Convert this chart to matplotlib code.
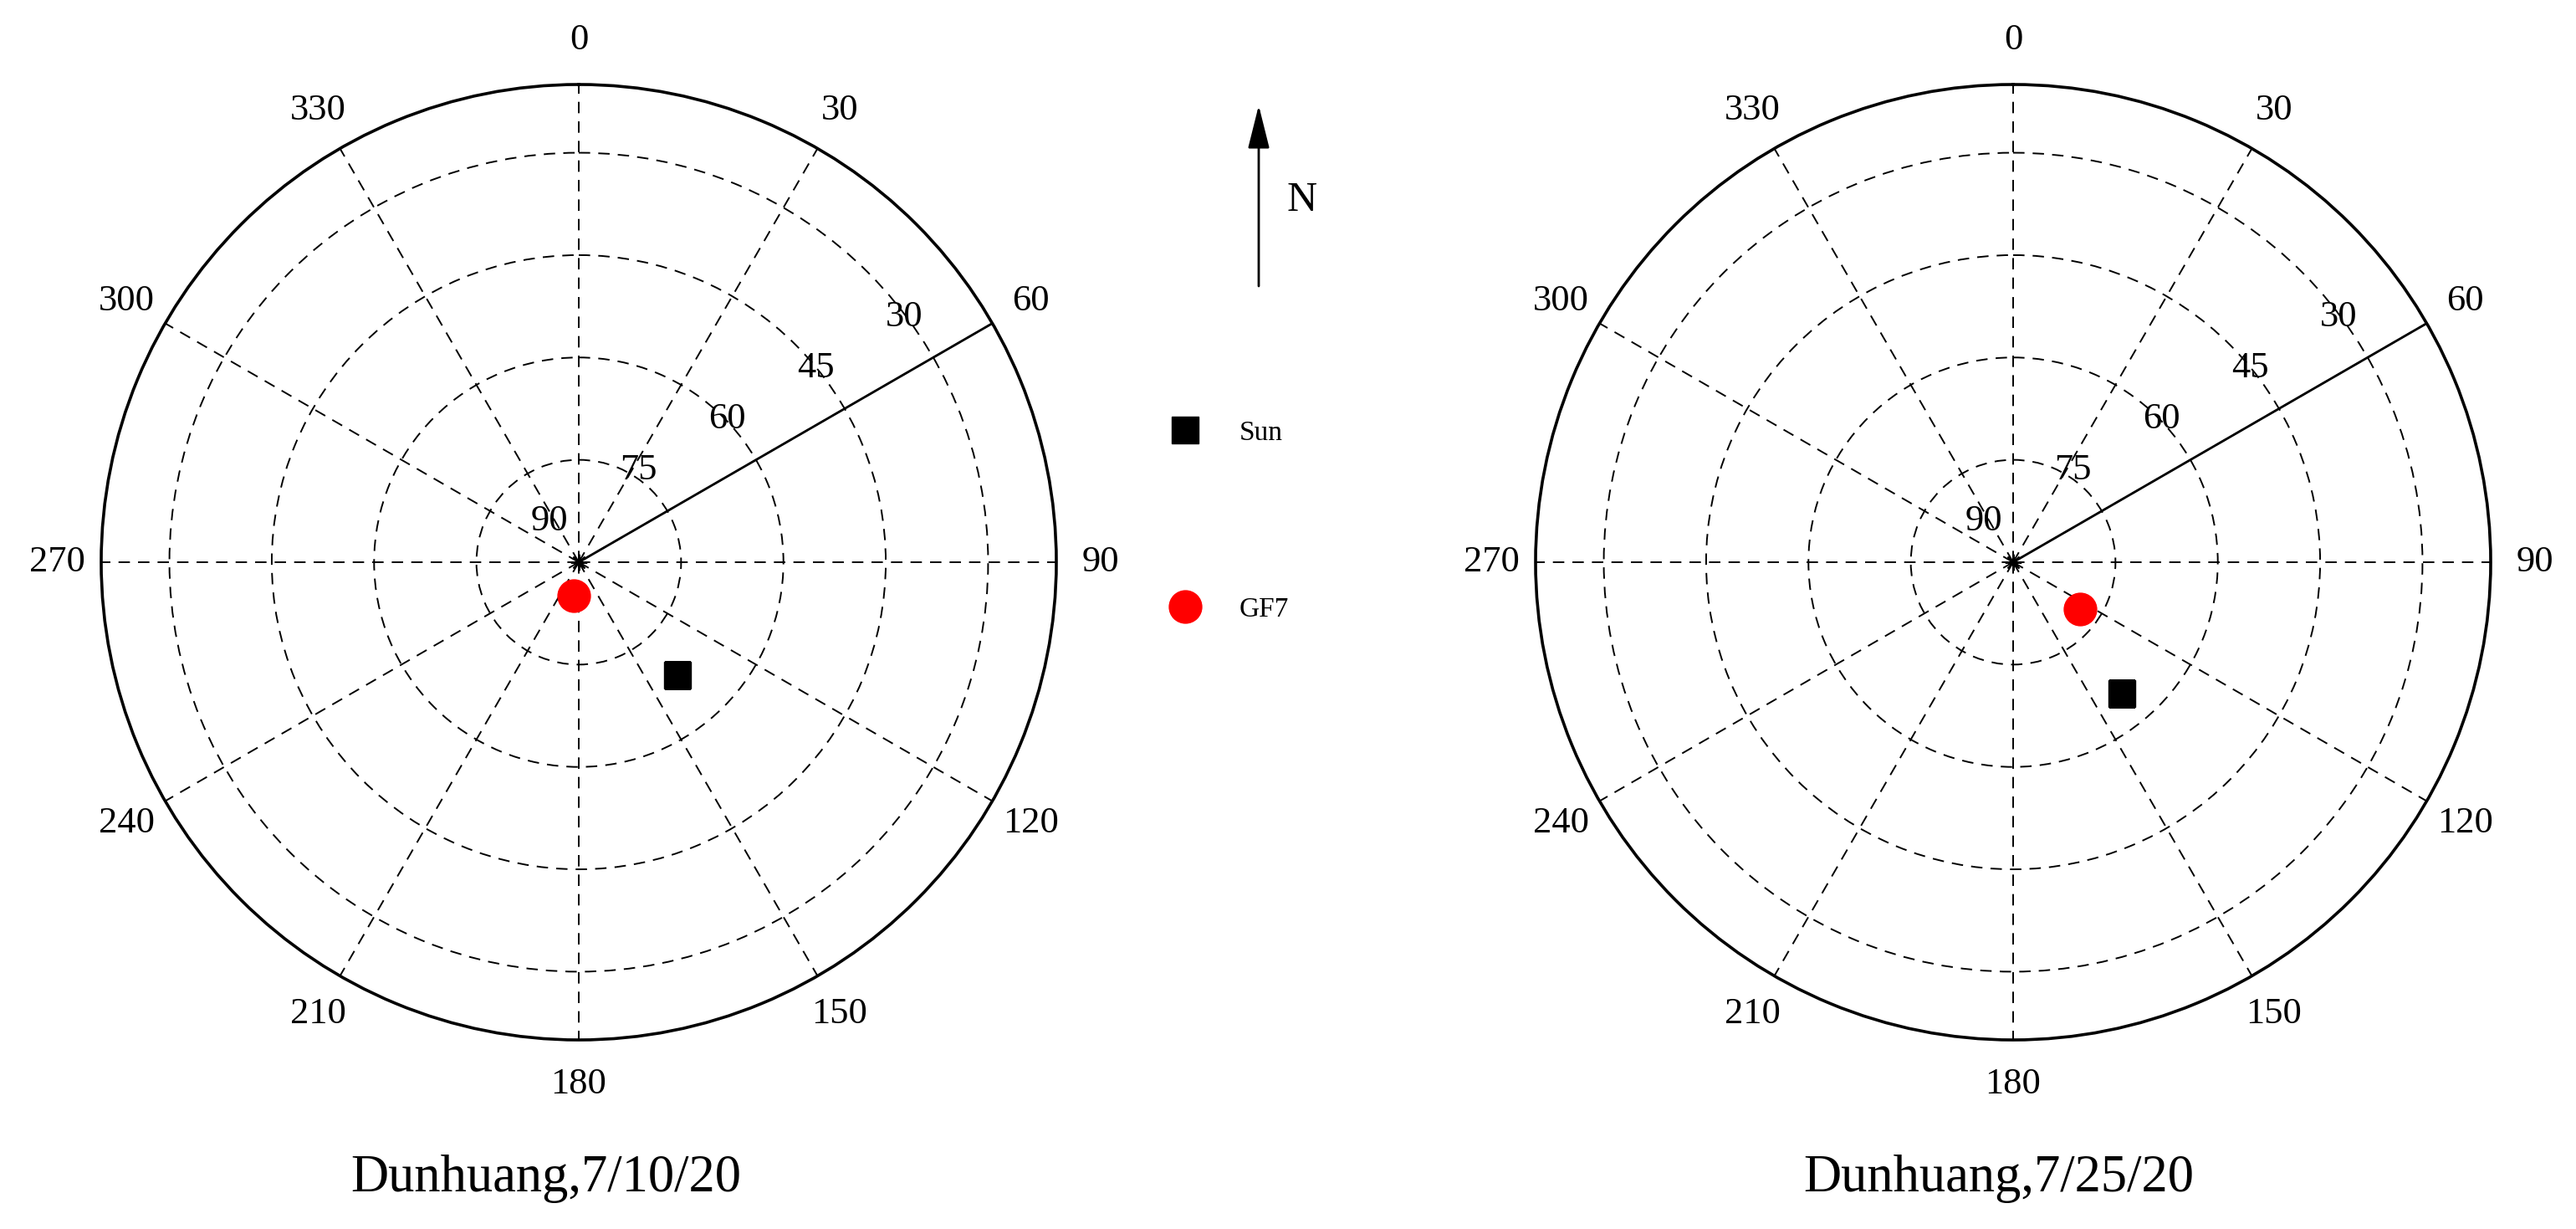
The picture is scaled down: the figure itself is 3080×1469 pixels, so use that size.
import matplotlib
matplotlib.use('Agg')
import matplotlib.pyplot as plt
import numpy as np

plt.rcParams['font.family'] = ['Liberation Serif', 'DejaVu Serif']

# sky positions: azimuth (deg from north, clockwise), elevation (deg)
titles = ['Dunhuang,7/10/20', 'Dunhuang,7/25/20']
sun_az = [139.0, 140.5]
sun_el = [68.0, 65.0]
gf7_az = [189.0, 125.0]
gf7_el = [85.0, 78.0]

az_ticks = list(range(0, 360, 30))
el_rings = [75, 60, 45, 30]
el_labels = [90, 75, 60, 45, 30]
el_min = 20          # elevation at the outer circle
ref_az = 60          # solid reference line / label direction

W, H = 3080, 1469
fig = plt.figure(figsize=(W / 100, H / 100), dpi=100)

centers = [(692, 672), (2407, 672)]
title_x = [653, 2390]
R = 571
dash = (0, (7, 5))

line_handles = []
for i in range(2):
    cx, cy = centers[i]
    ax = fig.add_axes([(cx - R) / W, (H - cy - R) / H, 2 * R / W, 2 * R / H],
                      projection='polar')
    ax.set_theta_zero_location('N')
    ax.set_theta_direction(-1)
    ax.set_ylim(0, 90 - el_min)

    ax.set_xticks(np.deg2rad(az_ticks))
    ax.set_xticklabels([str(a) for a in az_ticks], fontsize=32)
    ax.set_yticks([90 - e for e in el_rings])
    ax.set_yticklabels([])
    ax.tick_params(axis='x', pad=31, length=0)
    ax.grid(True, color='k', linestyle=dash, linewidth=1.4)
    ax.spines['polar'].set_linewidth(2.6)

    # reference line from zenith to horizon limit
    ax.plot([np.deg2rad(ref_az)] * 2, [0, 90 - el_min], color='k', lw=2.0)
    ax.plot(0, 0, marker=(8, 2, 0), color='k', ms=14, mew=1.5)

    for e in el_labels:
        ax.annotate(str(e), xy=(np.deg2rad(ref_az), 90 - e), xytext=(-25, 35),
                    textcoords='offset points', ha='center', va='center',
                    fontsize=32)

    sun, = ax.plot(np.deg2rad(sun_az[i]), 90 - sun_el[i], 's', color='k',
                   ms=23, label='Sun', linestyle='none')
    gf7, = ax.plot(np.deg2rad(gf7_az[i]), 90 - gf7_el[i], 'o', color='red',
                   ms=28, label='GF7', linestyle='none')
    line_handles = [sun, gf7]

    fig.text(title_x[i] / W, 1 - 1424 / H, titles[i], ha='center',
             va='baseline', fontsize=45)

fig.legend(line_handles, ['Sun', 'GF7'], loc='center left',
           bbox_to_anchor=(1400 / W, 1 - 623 / H), frameon=False, fontsize=24,
           labelspacing=5.4, handlelength=1.0, handletextpad=1.45,
           borderpad=0, borderaxespad=0, numpoints=1)

# north arrow
ax_x = 1505 / W
plt.annotate('', xy=(ax_x, 1 - 126 / H), xytext=(ax_x, 1 - 342 / H),
             xycoords='figure fraction', textcoords='figure fraction',
             arrowprops=dict(arrowstyle='-|>,head_length=0.8,head_width=0.2',
                             color='k', lw=2, mutation_scale=40,
                             shrinkA=0, shrinkB=0))
fig.text(1557 / W, 1 - 240 / H, 'N', ha='center', va='center', fontsize=36)

plt.savefig('out.png', dpi=100)
